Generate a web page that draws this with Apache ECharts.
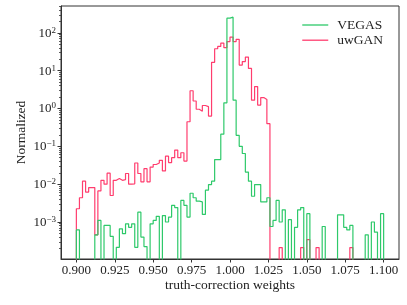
<!DOCTYPE html>
<html><head><meta charset="utf-8">
<script src="https://cdn.jsdelivr.net/npm/echarts@6/dist/echarts.min.js"></script>
<style>html,body{margin:0;padding:0;background:#fff}#c{width:407px;height:305px}</style>
</head><body><div id="c"></div>
<script>
// ---- data ----
const binLo = 0.9, binHi = 1.1, nBins = 100;
const vegas = [
  6.17e-4, 0, 0, 0, 0, 0, 4.57e-4, 1.10e-3, 0, 8.13e-4,
  8.13e-4, 4.17e-4, 0, 2.14e-4, 6.61e-4, 4.90e-4, 8.91e-4, 7.24e-4, 8.91e-4, 2.14e-4,
  1.82e-3, 3.98e-4, 2.24e-4, 0, 8.91e-4, 1.10e-3, 1.41e-3, 0, 1.48e-3, 1.00e-3,
  1.35e-3, 2.75e-3, 2.40e-3, 0, 3.72e-3, 2.75e-3, 1.35e-3, 5.75e-3, 4.37e-3, 3.55e-3,
  3.39e-3, 1.58e-3, 6.92e-3, 9.77e-3, 1.20e-2, 4.47e-2, 4.47e-2, 0.209, 1.41, 245,
  260, 1.66, 0.195, 0.100, 0.0646, 0.0209, 0.0120, 0.00479, 0.00977, 0.00977,
  0.00339, 0.00339, 0.00437, 7.59e-4, 1.10e-3, 3.72e-3, 1.00e-3, 2.09e-3, 0, 1.15e-3,
  0, 7.24e-4, 2.09e-3, 2.40e-3, 0, 1.66e-3, 0, 0, 0, 0,
  7.59e-4, 0, 0, 0, 0, 1.55e-3, 1.55e-3, 7.24e-4, 6.17e-4, 8.13e-4,
  0, 0, 0, 0, 4.57e-4, 0, 1.00e-3, 5.37e-4, 0, 1.66e-3
];
const uwgan = [
  2.24e-3, 4.37e-3, 1.20e-2, 6.17e-3, 8.13e-3, 8.13e-3, 4.57e-4, 6.61e-3, 1.26e-2, 1.00e-2,
  1.95e-2, 5.01e-3, 1.26e-2, 1.41e-2, 1.26e-2, 1.32e-2, 1.91e-2, 1.00e-2, 1.02e-2, 3.63e-2,
  1.91e-2, 1.15e-2, 2.57e-2, 1.15e-2, 2.82e-2, 3.31e-2, 3.63e-2, 4.27e-2, 2.24e-2, 5.50e-2,
  3.72e-2, 5.01e-2, 7.94e-2, 5.01e-2, 6.76e-2, 4.07e-2, 0.447, 2.95, 1.58, 0.955,
  0.851, 1.20, 1.12, 0.631, 16.6, 38.0, 43.7, 53.7, 40.7, 58.9,
  77.6, 58.9, 67.6, 14.1, 17.4, 22.9, 11.5, 1.66, 3.80, 1.23,
  1.95, 1.74, 0.398, 0, 0, 0, 2.1e-4, 0, 0, 0,
  0, 0, 0, 2.1e-4, 0, 3.4e-4, 0, 0, 2.1e-4, 0,
  0, 0, 0, 0, 0, 0, 0, 0, 0, 2.1e-4,
  0, 0, 0, 0, 0, 0, 0, 0, 0, 0
];
const xTicks = [0.900, 0.925, 0.950, 0.975, 1.000, 1.025, 1.050, 1.075, 1.100];
const yTicks = [1e-4, 1e-3, 1e-2, 1e-1, 1e0, 1e1, 1e2];
const yMinorTicks = [];
[-4, -3, -2, -1, 0, 1, 2].forEach(e => { for (let m = 2; m <= 9; m++) yMinorTicks.push(m * Math.pow(10, e)); });
const xRange = [0.89, 1.11];
const yRange = [1.05e-4, 513];
const seriesNames = ['VEGAS', 'uwGAN'];
const colors = ['#2ec96a', '#ff3d6e'];

// ---- build step outlines ----
const FLOOR = 1e-7; // zero counts drop to the baseline (below the axis)
const edges = [];
for (let i = 0; i <= nBins; i++) edges.push(+(binLo + (binHi - binLo) * i / nBins).toFixed(6));
function stepPoints(vals) {
  const pts = [[edges[0], FLOOR]];
  vals.forEach((v, i) => {
    const y = v > 0 ? v : FLOOR;
    pts.push([edges[i], y], [edges[i + 1], y]);
  });
  pts.push([edges[nBins], FLOOR]);
  return pts;
}

const FONT = 'Liberation Serif';
const TXT = '#222';
const AX = '#333';
const chart = echarts.init(document.getElementById('c'), null, {renderer: 'canvas'});
chart.setOption({
  animation: false,
  backgroundColor: '#fff',
  grid: {left: 61, right: 8, top: 6, bottom: 46, show: true, borderColor: AX, borderWidth: 1,
         backgroundColor: 'transparent', outerBoundsMode: 'none'},
  legend: {
    data: seriesNames, orient: 'vertical', right: 19, top: 13,
    icon: 'rect', itemWidth: 26, itemHeight: 1.3, itemGap: 1.2,
    textStyle: {fontFamily: FONT, fontSize: 13.5, color: TXT, padding: [0, 0, 0, 4]}
  },
  xAxis: {
    type: 'value', min: xRange[0], max: xRange[1],
    name: 'truth-correction weights', nameLocation: 'middle', nameGap: 19, nameMoveOverlap: false,
    nameTextStyle: {fontFamily: FONT, fontSize: 13.5, color: TXT},
    axisLine: {show: true, onZero: false, lineStyle: {color: AX, width: 1}},
    axisTick: {show: true, inside: false, length: 3.5, customValues: xTicks, lineStyle: {color: AX, width: 1}},
    axisLabel: {customValues: xTicks, formatter: v => v.toFixed(3), fontFamily: FONT, fontSize: 13, color: TXT, margin: 5},
    splitLine: {show: false}
  },
  yAxis: [{
    type: 'log', logBase: 10, min: yRange[0], max: yRange[1],
    name: 'Normalized', nameLocation: 'middle', nameGap: 33, nameMoveOverlap: false,
    nameTextStyle: {fontFamily: FONT, fontSize: 13.5, color: TXT},
    axisLine: {show: true, lineStyle: {color: AX, width: 1}},
    axisTick: {show: true, inside: false, length: 3.5, customValues: yTicks, lineStyle: {color: AX, width: 1}},
    axisLabel: {
      customValues: yTicks, margin: 5,
      formatter: v => { const e = Math.round(Math.log10(v)); return '{b|10}{s|' + (e < 0 ? '\u2212' + (-e) : e) + '}'; },
      rich: {
        b: {fontFamily: FONT, fontSize: 13, color: TXT, lineHeight: 14, verticalAlign: 'bottom'},
        s: {fontFamily: FONT, fontSize: 9, color: TXT, lineHeight: 7, verticalAlign: 'top'}
      }
    },
    splitLine: {show: false}
  }, {
    type: 'log', logBase: 10, min: yRange[0], max: yRange[1], position: 'left', offset: 0,
    axisLine: {show: false},
    axisTick: {show: true, inside: false, length: 2, customValues: yMinorTicks, lineStyle: {color: AX, width: 0.8}},
    axisLabel: {show: false},
    splitLine: {show: false}
  }],
  series: [
    {name: seriesNames[0], type: 'line', data: stepPoints(vegas), symbol: 'none', clip: true,
     lineStyle: {color: colors[0], width: 1.2}, itemStyle: {color: colors[0]}, z: 3},
    {name: seriesNames[1], type: 'line', data: stepPoints(uwgan), symbol: 'none', clip: true,
     lineStyle: {color: colors[1], width: 1.2}, itemStyle: {color: colors[1]}, z: 2}
  ]
});
</script>
</body></html>
